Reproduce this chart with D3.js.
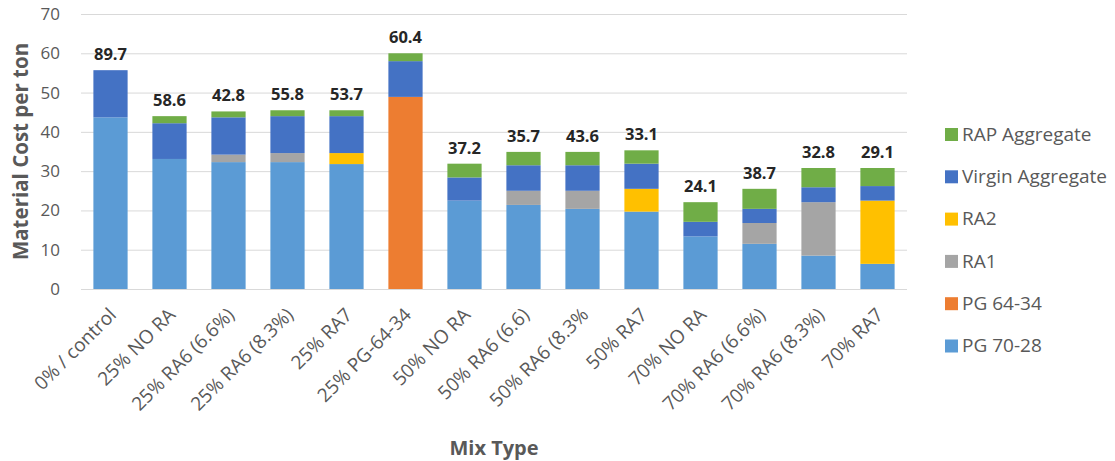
<!DOCTYPE html>
<html>
<head>
<meta charset="utf-8">
<script src="https://cdn.jsdelivr.net/npm/d3@7"></script>
<style>
  html, body { margin: 0; padding: 0; background: #ffffff; }
  svg { display: block; font-family: "Open Sans", "Noto Sans", sans-serif; }
</style>
</head>
<body>
<svg id="chart" width="1115" height="461"></svg>
<script>
// Mix designs along the x axis
const categories = [
  "0% / control", "25% NO RA", "25% RA6 (6.6%)", "25% RA6 (8.3%)", "25% RA7",
  "25% PG-64-34", "50% NO RA", "50% RA6 (6.6)", "50% RA6 (8.3%", "50% RA7",
  "70% NO RA", "70% RA6 (6.6%)", "70% RA6 (8.3%)", "70% RA7"
];

// Cost components (material cost per ton), stacked bottom to top
const pg7028 = [43.7, 33.1, 32.3, 32.3, 31.8, 0, 22.5, 21.4, 20.4, 19.7, 13.4, 11.5, 8.5, 6.4];
const pg6434 = [0, 0, 0, 0, 0, 48.9, 0, 0, 0, 0, 0, 0, 0, 0];
const ra1    = [0, 0, 1.9, 2.3, 0, 0, 0, 3.6, 4.6, 0, 0, 5.3, 13.6, 0];
const ra2    = [0, 0, 0, 0, 2.8, 0, 0, 0, 0, 5.8, 0, 0, 0, 16.1];
const virgin = [12.0, 9.1, 9.5, 9.4, 9.4, 9.1, 5.9, 6.5, 6.5, 6.4, 3.7, 3.6, 3.8, 3.7];
const rap    = [0, 1.8, 1.5, 1.5, 1.5, 2.0, 3.5, 3.4, 3.4, 3.4, 5.0, 5.1, 4.9, 4.6];

// Values printed above each bar
const barLabels = [89.7, 58.6, 42.8, 55.8, 53.7, 60.4, 37.2, 35.7, 43.6, 33.1, 24.1, 38.7, 32.8, 29.1];

// Y axis ticks
const yTicks = [0, 10, 20, 30, 40, 50, 60, 70];

const seriesNames = ["PG 70-28", "PG 64-34", "RA1", "RA2", "Virgin Aggregate", "RAP Aggregate"];
const seriesValues = [pg7028, pg6434, ra1, ra2, virgin, rap];
const seriesColors = ["#5b9bd5", "#ed7d31", "#a5a5a5", "#ffc000", "#4472c4", "#70ad47"];

const rows = categories.map((c, i) => {
  const r = { category: c };
  seriesNames.forEach((s, k) => { r[s] = seriesValues[k][i]; });
  return r;
});

const svg = d3.select("#chart");
const plotLeft = 81, plotRight = 907, plotTop = 14, plotBottom = 289;
const textGray = "#595959";

const x = d3.scaleBand().domain(categories).range([plotLeft, plotRight])
  .paddingInner(0.42).paddingOuter(0.21);
const y = d3.scaleLinear().domain([0, 70]).range([plotBottom, plotTop]);

// Horizontal gridlines
svg.append("g")
  .attr("transform", `translate(${plotLeft},0)`)
  .call(d3.axisLeft(y).tickValues(yTicks).tickSize(-(plotRight - plotLeft)).tickFormat(""))
  .call(g => g.select(".domain").remove())
  .call(g => g.selectAll("line").attr("stroke", "#d9d9d9").attr("stroke-width", 1));

// Y tick labels
svg.append("g")
  .attr("transform", `translate(${plotLeft - 21},0)`)
  .call(d3.axisLeft(y).tickValues(yTicks).tickSize(0).tickPadding(0))
  .call(g => g.select(".domain").remove())
  .call(g => g.selectAll("text")
    .attr("fill", textGray).style("font-size", "17px")
    .style("font-family", "'Open Sans', sans-serif"));

// Stacked bars
const stacked = d3.stack().keys(seriesNames)(rows);
svg.append("g").selectAll("g")
  .data(stacked)
  .join("g")
  .attr("fill", (d, i) => seriesColors[i])
  .selectAll("rect")
  .data(d => d)
  .join("rect")
  .attr("x", d => x(d.data.category))
  .attr("width", x.bandwidth())
  .attr("y", d => y(d[1]))
  .attr("height", d => Math.max(0, y(d[0]) - y(d[1])));

// Labels above each stack
const totals = rows.map(r => d3.sum(seriesNames, s => r[s]));
svg.append("g").selectAll("text")
  .data(categories)
  .join("text")
  .attr("x", d => x(d) + x.bandwidth() / 2)
  .attr("y", (d, i) => y(totals[i]) - 10)
  .attr("text-anchor", "middle")
  .attr("fill", "#262626")
  .style("font-weight", "700")
  .style("font-size", "16.5px")
  .text((d, i) => barLabels[i].toFixed(1));

// X axis line
svg.append("line")
  .attr("x1", plotLeft).attr("x2", plotRight)
  .attr("y1", plotBottom + 0.5).attr("y2", plotBottom + 0.5)
  .attr("stroke", "#d9d9d9");

// Rotated category labels
svg.append("g").selectAll("text")
  .data(categories)
  .join("text")
  .attr("transform", d => `translate(${x(d) + x.bandwidth() / 2 + 7},${plotBottom + 27}) rotate(-45)`)
  .attr("text-anchor", "end")
  .attr("fill", textGray)
  .style("font-size", "19px")
  .text(d => d);

// Axis titles
svg.append("text")
  .attr("transform", `translate(28,${(plotTop + plotBottom) / 2}) rotate(-90)`)
  .attr("text-anchor", "middle")
  .attr("fill", textGray)
  .style("font-weight", "700")
  .style("font-size", "20.5px")
  .text("Material Cost per ton");

svg.append("text")
  .attr("x", (plotLeft + plotRight) / 2)
  .attr("y", 455)
  .attr("text-anchor", "middle")
  .attr("fill", textGray)
  .style("font-weight", "700")
  .style("font-size", "20px")
  .text("Mix Type");

// Legend, listed top to bottom in reverse stacking order
const legendOrder = d3.range(seriesNames.length).reverse();
const legend = svg.append("g").selectAll("g")
  .data(legendOrder)
  .join("g")
  .attr("transform", (k, i) => `translate(945,${134 + i * 42.3})`);
legend.append("rect")
  .attr("x", 0).attr("y", -6).attr("width", 13).attr("height", 13)
  .attr("fill", k => seriesColors[k]);
legend.append("text")
  .attr("x", 17).attr("y", 0).attr("dy", "0.36em")
  .attr("fill", textGray)
  .style("font-size", "19px")
  .text(k => seriesNames[k]);
</script>
</body>
</html>
